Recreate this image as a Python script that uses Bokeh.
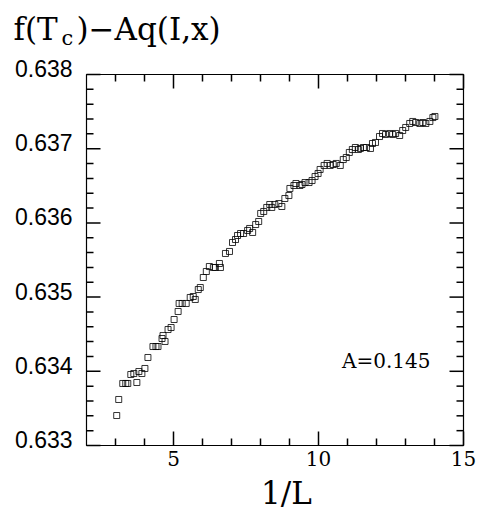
from bokeh.plotting import figure
from bokeh.models import Range1d, Label
from bokeh.embed import file_html
from bokeh.resources import INLINE

# data: x = 1/L, y = f(Tc) - A q(I,x)
inv_L = [3.042, 3.111, 3.250, 3.354, 3.424, 3.528, 3.632, 3.736, 3.806, 3.910,
         4.014, 4.118, 4.292, 4.396, 4.465, 4.604, 4.639, 4.708, 4.812, 4.917,
         5.021, 5.160, 5.194, 5.299, 5.438, 5.576, 5.681, 5.750, 5.854, 5.924,
         6.028, 6.132, 6.236, 6.375, 6.444, 6.583, 6.618, 6.792, 6.931, 7.035,
         7.139, 7.208, 7.313, 7.417, 7.556, 7.625, 7.729, 7.833, 7.938, 8.007,
         8.111, 8.215, 8.319, 8.389, 8.493, 8.632, 8.736, 8.840, 8.979, 9.014,
         9.153, 9.222, 9.361, 9.431, 9.535, 9.674, 9.778, 9.882, 9.986, 10.056,
         10.194, 10.299, 10.403, 10.507, 10.611, 10.750, 10.854, 10.958, 11.063, 11.167,
         11.271, 11.375, 11.444, 11.549, 11.653, 11.792, 11.861, 11.965, 12.104, 12.208,
         12.313, 12.451, 12.556, 12.660, 12.799, 12.903, 13.007, 13.146, 13.250, 13.354,
         13.493, 13.597, 13.701, 13.840, 13.944, 14.014]
f_val = [0.633404, 0.633620, 0.633836, 0.633836, 0.633836, 0.633957, 0.633970, 0.633849, 0.633997, 0.633970,
         0.634038, 0.634186, 0.634334, 0.634334, 0.634334, 0.634442, 0.634482, 0.634402, 0.634563, 0.634590,
         0.634698, 0.634806, 0.634914, 0.634914, 0.634914, 0.634995, 0.635008, 0.634968, 0.635102, 0.635129,
         0.635264, 0.635345, 0.635412, 0.635399, 0.635399, 0.635453, 0.635399, 0.635588, 0.635615, 0.635736,
         0.635776, 0.635830, 0.635857, 0.635857, 0.635898, 0.635925, 0.635871, 0.635978, 0.636019, 0.636127,
         0.636154, 0.636208, 0.636248, 0.636208, 0.636248, 0.636261, 0.636221, 0.636329, 0.636369, 0.636464,
         0.636504, 0.636531, 0.636504, 0.636518, 0.636544, 0.636544, 0.636571, 0.636625, 0.636666, 0.636720,
         0.636774, 0.636801, 0.636774, 0.636787, 0.636801, 0.636774, 0.636854, 0.636881, 0.636949, 0.636989,
         0.637016, 0.636989, 0.637003, 0.637016, 0.637016, 0.637003, 0.637070, 0.637084, 0.637164, 0.637205,
         0.637191, 0.637205, 0.637191, 0.637205, 0.637178, 0.637245, 0.637286, 0.637340, 0.637367, 0.637353,
         0.637340, 0.637353, 0.637340, 0.637367, 0.637420, 0.637434]

# axes: limits, ticks, tick labels
x_lo, x_hi = 2, 15
y_lo, y_hi = 0.633, 0.638
x_major = [5, 10, 15]
x_major_labels = ["5", "10", "15"]
x_minor = [3, 4, 6, 7, 8, 9, 11, 12, 13, 14]
y_major = [0.633, 0.634, 0.635, 0.636, 0.637, 0.638]
y_major_labels = ["0.633", "0.634", "0.635", "0.636", "0.637", "0.638"]
y_minor = [0.633 + 0.0002 * i for i in range(26) if i % 5 != 0]

title_main = "f(T"
title_sub = "c"
title_rest = ")\u2212Aq(I,x)"
x_label = "1/L"
annot = "A=0.145"

SERIF = "DejaVu Serif"
SANS = "Liberation Sans"

# ---- page geometry (pixels) ----
W, H = 478, 513
FL, FR, FT, FB = 86, 463, 74, 445      # plot box edges
MAJ, MIN = 14, 7                        # inward tick lengths
TICK_W = 1.5

ux = (x_hi - x_lo) / (FR - FL)          # data units per pixel
uy = (y_hi - y_lo) / (FB - FT)

p = figure(width=W, height=H, output_backend="svg", toolbar_location=None,
           x_range=Range1d(x_lo - FL * ux, x_hi + (W - FR) * ux),
           y_range=Range1d(y_lo - (H - FB) * uy, y_hi + FT * uy),
           x_axis_location=None, y_axis_location=None, min_border=0,
           min_border_left=0, min_border_right=0, min_border_top=0, min_border_bottom=0)
p.outline_line_color = None
p.grid.visible = False
p.background_fill_color = "white"
p.border_fill_color = "white"

# plot box
p.quad(left=[x_lo], right=[x_hi], bottom=[y_lo], top=[y_hi],
       fill_color=None, line_color="black", line_width=1.2)

# inward ticks on all four sides
def xticks(vals, length):
    n = len(vals)
    p.segment(x0=vals, y0=[y_lo] * n, x1=vals, y1=[y_lo + length * uy] * n,
              line_color="black", line_width=TICK_W)
    p.segment(x0=vals, y0=[y_hi] * n, x1=vals, y1=[y_hi - length * uy] * n,
              line_color="black", line_width=TICK_W)

def yticks(vals, length):
    n = len(vals)
    p.segment(x0=[x_lo] * n, y0=vals, x1=[x_lo + length * ux] * n, y1=vals,
              line_color="black", line_width=TICK_W)
    p.segment(x0=[x_hi] * n, y0=vals, x1=[x_hi - length * ux] * n, y1=vals,
              line_color="black", line_width=TICK_W)

xticks(x_major, MAJ)
xticks(x_minor, MIN)
yticks(y_major, MAJ)
yticks(y_minor, MIN)

# tick labels (offsets in pixels, positive y_offset = downwards)
p.text(x=x_major, y=[y_lo] * len(x_major), text=x_major_labels,
       text_font={"value": SERIF}, text_font_size="20px", text_color="black",
       text_align="center", text_baseline="middle", y_offset=13)
p.text(x=[x_lo] * len(y_major), y=y_major, text=y_major_labels,
       text_font={"value": SANS}, text_font_size="23px", text_color="black",
       text_align="right", text_baseline="middle", x_offset=-14, y_offset=-6)

# data
p.scatter(inv_L, f_val, marker="square", size=6, fill_color=None,
          line_color="black", line_width=0.8)

# texts in screen units (x from left, y up from bottom of the page), vertically centred
def lab(x, y, text, size, align="left"):
    p.add_layout(Label(x=x, y=y, x_units="screen", y_units="screen", text=text,
                       text_font=SERIF, text_font_size=size, text_color="black",
                       text_baseline="middle", text_align=align))

lab(13, H - 28, title_main, "31px")
lab(61, H - 37, title_sub, "21px")
lab(76, H - 28, title_rest, "31px")
lab(286, H - 492, x_label, "31px", align="center")
lab(430, H - 360, annot, "20px", align="right")

open("out.html", "w").write(file_html(p, INLINE))
